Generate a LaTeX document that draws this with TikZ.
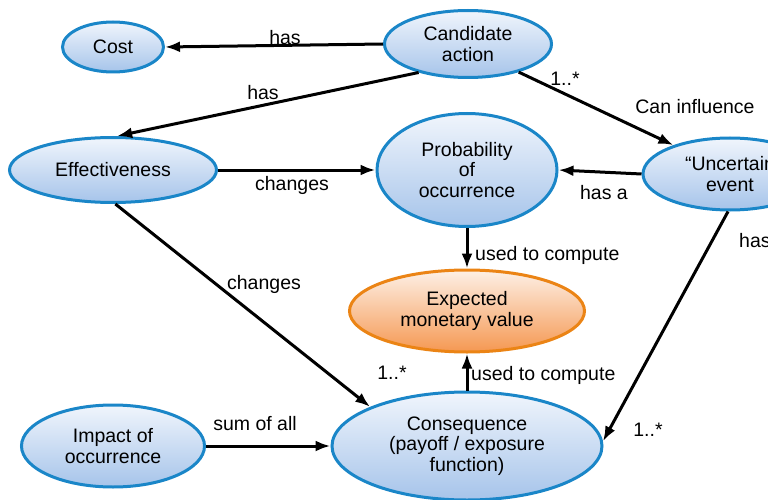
\documentclass[tikz,border=0pt]{standalone}
\usepackage{fontspec}
\setmainfont{Liberation Sans}
\usetikzlibrary{shapes.geometric,arrows.meta}
\definecolor{conceptedge}{RGB}{26,134,200}
\definecolor{concepttop}{RGB}{240,245,252}
\definecolor{conceptbot}{RGB}{166,196,234}
\definecolor{goaledge}{RGB}{235,132,21}
\definecolor{goaltop}{RGB}{253,240,230}
\definecolor{goalbot}{RGB}{245,152,82}
\tikzset{
  txt/.style={font=\fontsize{19.5}{20.5}\selectfont, align=center},
  concept/.style={txt, ellipse, inner sep=0pt, line width=3pt, draw=conceptedge,
    top color=concepttop, bottom color=conceptbot},
  goal/.style={concept, draw=goaledge, top color=goaltop, bottom color=goalbot},
  link/.style={line width=3pt, -{Latex[length=15pt,width=11pt]}},
  plain/.style={line width=3pt},
  lbl/.style={txt, inner sep=0pt}
}
\begin{document}
\begin{tikzpicture}[x=1pt,y=-1pt]
\useasboundingbox (0,0) rectangle (768,500);
\clip (0,0) rectangle (768,500);

% concepts
\node[concept, minimum width=101pt, minimum height=50pt] (cost) at (113,47) {Cost};
\node[concept, minimum width=167pt, minimum height=67pt] (cand) at (468,44) {Candidate\\action};
\node[concept, minimum width=207pt, minimum height=65pt] (eff) at (113,170) {Effectiveness};
\node[concept, minimum width=180pt, minimum height=113pt] (prob) at (467,170) {Probability\\of\\occurrence};
\node[concept, minimum width=174pt, minimum height=72pt] (unc) at (730,174) {“Uncertain\\event};
\node[goal, minimum width=235pt, minimum height=82pt] (emv) at (467,311) {Expected\\monetary value};
\node[concept, minimum width=183pt, minimum height=82pt] (imp) at (113,446) {Impact of\\occurrence};
\node[concept, minimum width=270pt, minimum height=108pt] (cons) at (467,446) {Consequence\\(payoff / exposure\\function)};

% relations
\draw[link] (cand.west) -- (cost.east);
\draw[link] (cand.210) -- (eff.83);
\draw[link] (cand.331) -- (unc.153);
\draw[link] (eff.east) -- (prob.west);
\draw[link] (unc.west) -- (prob.east);
\draw[link] (prob.south) -- (emv.north);
\draw[link] (eff.274) -- (cons.158);
\draw[link] (cons.north) -- (emv.south);
\draw[link] (imp.east) -- (cons.west);
\draw[link] (unc.267) -- (cons.2);

% relation labels
\node[lbl] (l1) at (285,38) {has};
\node[lbl] (l2) at (263,93) {has};
\node[lbl] (l3) at (565,79) {1..*};
\node[lbl] (l4) at (695,107) {Can influence};
\node[lbl] (l5) at (292,185) {changes};
\node[lbl] (l6) at (604,193) {has a};
\node[lbl, anchor=west] (l7) at (475,255) {used to compute};
\node[lbl, anchor=west] (l8) at (739,241) {has};
\node[lbl] (l9) at (264,284) {changes};
\node[lbl] (l10) at (392,373) {1..*};
\node[lbl, anchor=west] (l11) at (471,375) {used to compute};
\node[lbl] (l12) at (255,424) {sum of all};
\node[lbl] (l13) at (648,430) {1..*};
\end{tikzpicture}
\end{document}
